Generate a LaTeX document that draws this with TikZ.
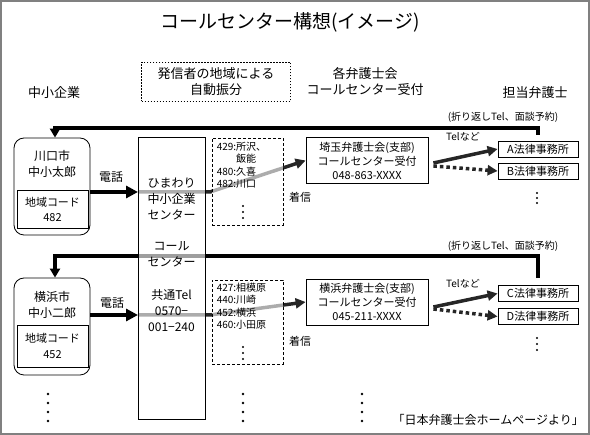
\documentclass[tikz,border=0pt]{standalone}
\usepackage{fontspec}
\setmainfont{Noto Sans CJK JP}
\usepackage{tikz}
\usetikzlibrary{arrows.meta,positioning}

\begin{document}
\begin{tikzpicture}[x=1pt,y=-1pt,
  every node/.style={inner sep=0pt,font=\fontsize{12}{16}\selectfont},
  hdr/.style={font=\fontsize{13}{16}\selectfont,align=center},
  mid/.style={font=\fontsize{11}{14}\selectfont,align=center},
  small/.style={font=\fontsize{10}{12.5}\selectfont},
  kbox/.style={draw,line width=0.8pt,rounded corners=10pt,minimum width=76pt,minimum height=97pt},
  codebox/.style={draw,line width=0.8pt,minimum width=71pt},
  glass/.style={fill=white,fill opacity=0.62,text opacity=1},
  areabox/.style={draw,glass,line width=0.8pt,dash pattern=on 3pt off 2pt,minimum width=71pt},
  barbox/.style={draw,line width=0.8pt,minimum width=122pt,minimum height=46pt},
  lawbox/.style={draw,line width=0.8pt,minimum width=80pt,minimum height=16pt,font=\fontsize{11}{14}\selectfont},
  call/.style={line width=4.5pt,-{Triangle[length=12pt,width=12pt]}},
  route/.style={line width=3.5pt,black!85,-{Triangle[length=10pt,width=10pt]}},
  tel/.style={line width=3.5pt,black!85,-{Triangle[length=10pt,width=10pt]}},
  telalt/.style={tel,dash pattern=on 3.5pt off 3pt},
  ret/.style={line width=3.5pt,-{Triangle[length=9pt,width=10pt]}}
]
  \useasboundingbox (0,0) rectangle (590,435);
  \draw[gray,line width=1.5pt] (1,1) rectangle (589,434);

  % title and column heads
  \node[font=\fontsize{19}{22}\selectfont] (ttl) at (290,22) {コールセンター構想(イメージ)};
  \node[hdr] (hsme) at (54,93) {中小企業};
  \node[hdr,draw,line width=1.2pt,dash pattern=on 1.5pt off 1.5pt,minimum width=149pt,minimum height=39pt] (hauto) at (216,82) {発信者の地域による\\自動振分};
  \node[hdr] (hbar) at (365,82) {各弁護士会\\コールセンター受付};
  \node[hdr] (hlaw) at (535,93) {担当弁護士};

  % boxes that carry no glass
  \node[kbox] (k1) at (52,186.5) {};
  \node[align=center] (k1name) at (52,164) {川口市\\中小太郎};
  \node[codebox,minimum height=38pt] (k1code) at (52.5,209) {};
  \node[mid,font=\fontsize{11}{15}\selectfont] (k1codetxt) at (k1code) {地域コード\\482};
  \node[kbox] (k2) at (52,326.5) {};
  \node[align=center] (k2name) at (52,305) {横浜市\\中小二郎};
  \node[codebox,minimum height=42pt] (k2code) at (52.5,346) {};
  \node[mid,font=\fontsize{11}{16}\selectfont] (k2codetxt) at (k2code) {地域コード\\452};

  \node[barbox,mid] (s1) at (367,160.5) {埼玉弁護士会(支部)\\コールセンター受付\\048-863-XXXX};
  \node[barbox,mid] (s2) at (367,302) {横浜弁護士会(支部)\\コールセンター受付\\045-211-XXXX};
  \node[lawbox] (a1) at (538,149) {A法律事務所};
  \node[lawbox] (b1) at (538,171) {B法律事務所};
  \node[lawbox] (c1) at (538,293.5) {C法律事務所};
  \node[lawbox] (d1) at (538,316.5) {D法律事務所};

  % calls and routing (drawn under the glass boxes)
  \coordinate (p1) at (0,192);
  \coordinate (p2) at (0,315);
  \coordinate (t1) at (0,128);
  \coordinate (t2) at (0,256);
  \coordinate (cc) at (171.5,278);
  \draw[call] (k1.east |- p1) -- (138,192);
  \draw[call] (k2.east |- p2) -- (138,315);
  \draw[route] (138,192) -- (210,192) -- (s1.west);
  \draw[route] (138,315) -- (210,315) -- (s2.west);
  \draw[ret] ([yshift=6pt]a1.north) -- (a1.north |- t1) -| ([xshift=3pt]k1.north);
  \draw[ret] ([yshift=7pt]c1.north) -- (c1.north |- t2) -| ([xshift=3pt]k2.north);
  \draw[tel] ([xshift=5pt,yshift=-2.5pt]s1.east) -- (a1.west);
  \draw[telalt] ([xshift=5pt,yshift=-5.5pt]s1.east) -- (b1.west);
  \draw[tel] ([xshift=5pt,yshift=-5pt]s2.east) -- (c1.west);
  \draw[telalt] ([xshift=5pt,yshift=-7pt]s2.east) -- (d1.west);

  % glass boxes
  \node[draw,glass,line width=0.8pt,minimum width=67pt,minimum height=282pt] (cbox) at (cc) {};
  \node[align=center] (csun) at (171.5,199) {ひまわり\\中小企業\\センター};
  \node[align=center] (ccall) at (171.5,254.5) {コール\\センター};
  \node[align=center] (ctel) at (171.5,311) {共通Tel\\0570−\\001−240};
  \node[areabox,minimum height=87pt] (r1) at (247.5,181.5) {};
  \node[small,align=left,anchor=north west] (r1txt) at ([xshift=5pt,yshift=-4pt]r1.north west) {429:所沢、\\\hphantom{429:}飯能\\480:久喜\\482:川口};
  \node[areabox,minimum height=84pt] (r2) at (247.5,322) {};
  \node[small,align=left,anchor=north west] (r2txt) at ([xshift=5pt,yshift=-3pt]r2.north west) {427:相模原\\440:川崎\\452:横浜\\460:小田原};

  % labels
  \node (lbphone1) at (111,177) {電話};
  \node (lbphone2) at (112,303) {電話};
  \node[mid] (lbin1) at (300,197) {着信};
  \node[mid] (lbin2) at (300,341) {着信};
  \node[small] (lbtel1) at (463,137) {Telなど};
  \node[small] (lbtel2) at (463,284) {Telなど};
  \node[small] (lbback1) at (503,117) {(折り返しTel、面談予約)};
  \node[small] (lbback2) at (503,246) {(折り返しTel、面談予約)};
  \node[anchor=east] (src) at (584,420) {「日本弁護士会ホームページより」};

  % vertical dots
  \foreach \y in {206,212,218} \fill (243,\y) circle (1.2);
  \foreach \y in {347,353,359} \fill (243,\y) circle (1.2);
  \foreach \y in {193,198,203} \fill (537,\y) circle (1.2);
  \foreach \y in {338,344,350} \fill (537,\y) circle (1.2);
  \foreach \x in {48,243,362}
    \foreach \y in {394,403,412,421} \fill (\x,\y) circle (1.3);
\end{tikzpicture}
\end{document}
